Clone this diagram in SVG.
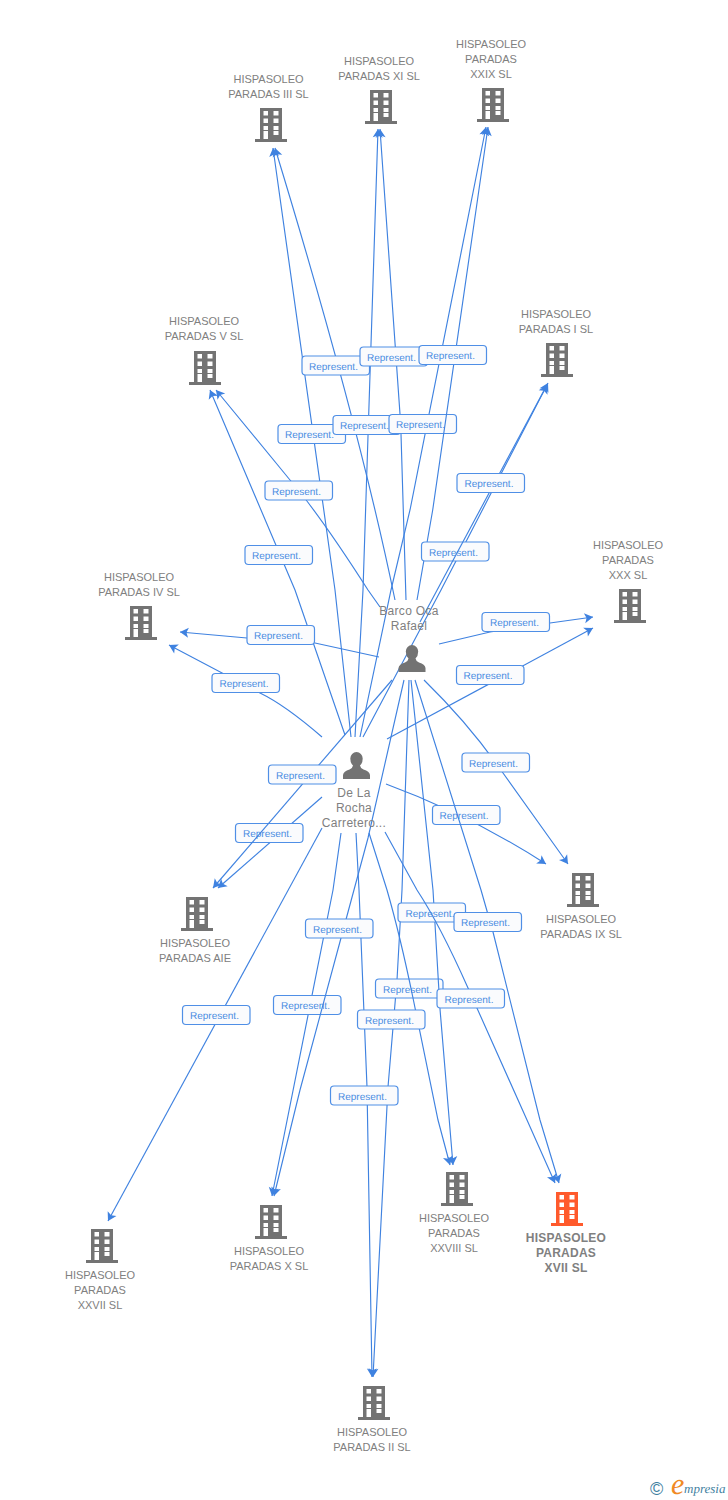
<svg xmlns="http://www.w3.org/2000/svg" width="728" height="1500" viewBox="0 0 728 1500">
<style>
text{font-family:"Liberation Sans",Arial,sans-serif}
.n{font-size:11px;fill:#808080;text-anchor:middle}
.h{font-size:12px;font-weight:bold;fill:#808080;text-anchor:middle;letter-spacing:.25px}
.p{font-size:12px;fill:#808080;text-anchor:middle;letter-spacing:.3px}
.c path{fill:none;stroke:#3f82e0;stroke-width:1.15;marker-end:url(#a)}
.c rect{fill:#fafbfd;stroke:#4f8fe6;stroke-width:1.2;width:67.5px;height:19px;rx:3.5px}
.c text{font-size:10px;fill:#4a8de2;text-rendering:geometricPrecision}
.i{fill:#737373}
.l{font-family:"Liberation Serif",serif;font-style:italic;text-rendering:geometricPrecision}
</style>
<defs>
<marker id="a" markerUnits="userSpaceOnUse" markerWidth="12" markerHeight="12" refX="10" refY="6" orient="auto"><path d="M10,6L1.500,1L3.500,6L1.500,11Z" style="fill:#3f82e0;stroke:none;marker-end:none"/></marker>
<path id="b" fill-rule="evenodd" d="M-16,-3H-11V-34H11V-3H16V0H-16ZM-7.5,-31V-26.5H-3V-31ZM2.5,-31V-26.5H7.5V-31ZM-7.5,-23.5V-19H-3V-23.5ZM2.5,-23.5V-19H7.5V-23.5ZM-7.5,-16V-12H-3V-16ZM2.5,-16V-12H7.5V-16ZM-7.5,-11V-3H-3V-11ZM2.5,-11V-7H7.5V-11Z"/>
<path id="u" d="M-13.500,0V-4Q-13,-8 -7,-9.500Q-4,-10.500 -3.500,-13.500Q-6.200,-16 -6.200,-20.500A6.200,6.500 0 1 1 6.200,-20.500Q6.200,-16 3.500,-13.500Q4,-10.500 7,-9.500Q13,-8 13.500,-4V0Z"/>
</defs>
<g id="connectors" class="c">
<g><path d="M351,737L335,590L273,148"/><rect x="278" y="424.500"/><text x="285" y="438">Represent.</text></g>
<g><path d="M395,600Q358,420 275,148"/><rect x="302" y="356"/><text x="309" y="369.500">Represent.</text></g>
<g><path d="M355,737L363,590L378,129"/><rect x="333" y="415.500"/><text x="340" y="429">Represent.</text></g>
<g><path d="M406,600L400.700,424L380,129"/><rect x="360" y="347"/><text x="367" y="360.500">Represent.</text></g>
<g><path d="M360,737L391,590L410,510L486,127"/><rect x="389" y="414.500"/><text x="396" y="428">Represent.</text></g>
<g><path d="M417,600L432.700,510L488,127"/><rect x="419" y="345.500"/><text x="426" y="359">Represent.</text></g>
<g><path d="M380,607L368,590Q320,515 290,480L216,390"/><rect x="265" y="481"/><text x="272" y="494.500">Represent.</text></g>
<g><path d="M345,735L295,590L210,390"/><rect x="245" y="545.500"/><text x="252" y="559">Represent.</text></g>
<g><path d="M379,657L315,643L247,638L180,632"/><rect x="247" y="625.500"/><text x="254" y="639">Represent.</text></g>
<g><path d="M322,737Q285,705 260,693L169,645"/><rect x="212" y="673.500"/><text x="219.500" y="687">Represent.</text></g>
<g><path d="M439,644L490,632L550,623L593,617"/><rect x="482" y="612.500"/><text x="490" y="626">Represent.</text></g>
<g><path d="M387,739L593,628"/><rect x="456.500" y="665.500"/><text x="463.500" y="679">Represent.</text></g>
<g><path d="M424,680Q470,725 503,773L568,864"/><rect x="462" y="753"/><text x="469" y="766.500">Represent.</text></g>
<g><path d="M386,784Q470,815 546,864"/><rect x="432.500" y="805.500"/><text x="439.500" y="819">Represent.</text></g>
<g><path d="M409,680L402,890L397,980L388,1087L373,1377"/><rect x="375.500" y="979"/><text x="383" y="992.500">Represent.</text></g>
<g><path d="M411,680L433,890L440,1009L453,1165"/><rect x="398" y="903"/><text x="405.500" y="916.500">Represent.</text></g>
<g><path d="M415,680L481,890L493,932L540,1120L559,1183"/><rect x="454" y="912.500"/><text x="461" y="926">Represent.</text></g>
<g><path d="M322,797L218,888"/><rect x="235.500" y="823.500"/><text x="243" y="837">Represent.</text></g>
<g><path d="M322,828L108,1221"/><rect x="182.500" y="1005.500"/><text x="190" y="1019">Represent.</text></g>
<g><path d="M341,833L333,890L272,1196"/><rect x="273.500" y="995.500"/><text x="281" y="1009">Represent.</text></g>
<g><path d="M356,833L359,890L367,1087L372,1377"/><rect x="330.500" y="1086"/><text x="338" y="1099.500">Represent.</text></g>
<g><path d="M369,833L387,890Q400,935 413,998L438,1120L450,1165"/><rect x="357.500" y="1010"/><text x="365" y="1023.500">Represent.</text></g>
<g><path d="M392,680L213,888"/><rect x="268.500" y="765"/><text x="276" y="778.500">Represent.</text></g>
<g><path d="M404,680L368,838L341,938L300,1090L274,1196"/><rect x="305.500" y="919"/><text x="313" y="932.500">Represent.</text></g>
<g><path d="M363,737L441,590L547,385"/><rect x="421.500" y="542"/><text x="429" y="555.500">Represent.</text></g>
<g><path d="M420,622L548,383"/><rect x="457" y="473.500"/><text x="464.500" y="487">Represent.</text></g>
<g><path d="M385,832L417,890Q440,925 468,988L527,1120L555,1183"/><rect x="437" y="989"/><text x="444.500" y="1002.500">Represent.</text></g>
</g>
<g id="n-iii"><use href="#b" class="i" transform="translate(271,142)"/><text class="n" x="268.500" y="83">HISPASOLEO</text><text class="n" x="268.500" y="98">PARADAS III SL</text></g>
<g id="n-xi"><use href="#b" class="i" transform="translate(381,124)"/><text class="n" x="379" y="65">HISPASOLEO</text><text class="n" x="379" y="80">PARADAS XI SL</text></g>
<g id="n-xxix"><use href="#b" class="i" transform="translate(493,122)"/><text class="n" x="491" y="48">HISPASOLEO</text><text class="n" x="491" y="63">PARADAS</text><text class="n" x="491" y="78">XXIX SL</text></g>
<g id="n-v"><use href="#b" class="i" transform="translate(205,385)"/><text class="n" x="204" y="325">HISPASOLEO</text><text class="n" x="204" y="340">PARADAS V SL</text></g>
<g id="n-i"><use href="#b" class="i" transform="translate(557,377)"/><text class="n" x="556" y="318">HISPASOLEO</text><text class="n" x="556" y="333">PARADAS I SL</text></g>
<g id="n-xxx"><use href="#b" class="i" transform="translate(630,623)"/><text class="n" x="628" y="549">HISPASOLEO</text><text class="n" x="628" y="564">PARADAS</text><text class="n" x="628" y="579">XXX SL</text></g>
<g id="n-iv"><use href="#b" class="i" transform="translate(141,640)"/><text class="n" x="139" y="581">HISPASOLEO</text><text class="n" x="139" y="596">PARADAS IV SL</text></g>
<g id="n-aie"><use href="#b" class="i" transform="translate(197,931)"/><text class="n" x="195" y="947">HISPASOLEO</text><text class="n" x="195" y="962">PARADAS AIE</text></g>
<g id="n-ix"><use href="#b" class="i" transform="translate(583,907)"/><text class="n" x="581" y="923">HISPASOLEO</text><text class="n" x="581" y="938">PARADAS IX SL</text></g>
<g id="n-x"><use href="#b" class="i" transform="translate(271,1239)"/><text class="n" x="269" y="1255">HISPASOLEO</text><text class="n" x="269" y="1270">PARADAS X SL</text></g>
<g id="n-xxviii"><use href="#b" class="i" transform="translate(457,1206)"/><text class="n" x="454" y="1222">HISPASOLEO</text><text class="n" x="454" y="1237">PARADAS</text><text class="n" x="454" y="1252">XXVIII SL</text></g>
<g id="n-xvii"><use href="#b" fill="#ff5a2c" transform="translate(567,1226)"/><text class="h" x="566" y="1242">HISPASOLEO</text><text class="h" x="566" y="1257">PARADAS</text><text class="h" x="566" y="1272">XVII SL</text></g>
<g id="n-xxvii"><use href="#b" class="i" transform="translate(102,1263)"/><text class="n" x="100" y="1279">HISPASOLEO</text><text class="n" x="100" y="1294">PARADAS</text><text class="n" x="100" y="1309">XXVII SL</text></g>
<g id="n-ii"><use href="#b" class="i" transform="translate(374,1420)"/><text class="n" x="372" y="1436">HISPASOLEO</text><text class="n" x="372" y="1451">PARADAS II SL</text></g>
<g id="n-barco"><use href="#u" class="i" transform="translate(412,672)"/><text class="p" x="409" y="615">Barco Oca</text><text class="p" x="409" y="630">Rafael</text></g>
<g id="n-rocha"><use href="#u" class="i" transform="translate(356.500,779)"/><text class="p" x="354" y="797">De La</text><text class="p" x="354" y="812">Rocha</text><text class="p" x="354" y="827">Carretero...</text></g>
<g id="logo"><text x="650" y="1495" font-size="18" fill="#3f7f9f">©</text><text class="l" x="671" y="1494" font-size="30" fill="#f08a24">e</text><text class="l" x="684" y="1493" font-size="13" fill="#3f7f9f">mpresia</text></g>
</svg>
